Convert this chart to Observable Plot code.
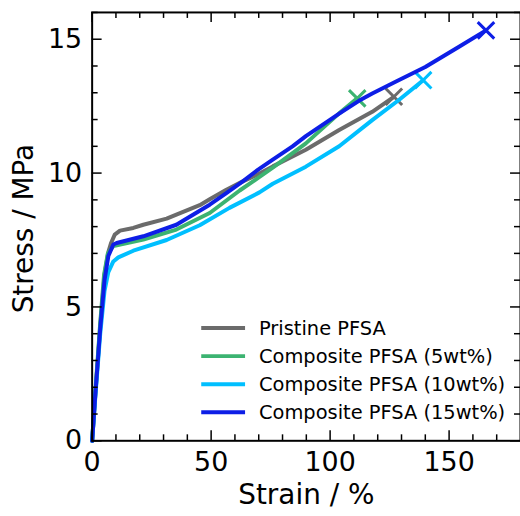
<!DOCTYPE html>
<html><head><meta charset="utf-8">
<script src="https://cdn.jsdelivr.net/npm/d3@7"></script>
<script src="https://cdn.jsdelivr.net/npm/@observablehq/plot@0.6"></script>
<style>html,body{margin:0;padding:0;overflow:hidden;background:#fff}svg{display:block}</style>
</head><body><div id="chart"></div>
<script>
// Series names and colours
const seriesNames = ["Pristine PFSA", "Composite PFSA (5wt%)", "Composite PFSA (10wt%)", "Composite PFSA (15wt%)"];
const seriesColors = ["#6b6b6b", "#3cb371", "#00bfff", "#0d1ee6"];

// Pristine PFSA
const pristineStrain = [0, 1.4, 3.4, 5.2, 6.8, 8.0, 9.5, 11.7, 17.3, 21.5, 31.3, 35.4, 45.2, 49.4, 56.4, 63.3, 68.9, 75.9, 89.8, 103.8, 117.7, 126.8];
const pristineStress = [0, 1.8, 4.3, 6.2, 7.05, 7.4, 7.7, 7.85, 7.95, 8.07, 8.3, 8.45, 8.8, 9.02, 9.38, 9.69, 9.92, 10.25, 10.87, 11.61, 12.29, 12.85];

// Composite PFSA (5wt%)
const comp5Strain = [0, 1.3, 3.4, 5.0, 6.6, 8.9, 21.5, 35.4, 49.4, 62.0, 69.6, 75.9, 89.8, 103.8, 111.4];
const comp5Stress = [0, 1.8, 4.4, 6.2, 7.0, 7.27, 7.52, 7.89, 8.51, 9.35, 9.81, 10.2, 11.11, 12.23, 12.79];

// Composite PFSA (10wt%)
const comp10Strain = [0, 1.3, 3.4, 5.2, 6.8, 8.9, 11.0, 17.3, 31.3, 45.2, 57.7, 70.3, 75.9, 89.8, 103.8, 117.7, 128.9, 139.1];
const comp10Stress = [0, 1.6, 4.0, 5.6, 6.3, 6.7, 6.85, 7.1, 7.5, 8.05, 8.7, 9.28, 9.6, 10.24, 11.0, 11.98, 12.73, 13.47];

// Composite PFSA (15wt%)
const comp15Strain = [0, 1.3, 3.4, 5.2, 6.8, 8.9, 10.3, 21.5, 35.4, 49.4, 56.4, 63.3, 69.6, 75.9, 84.2, 89.8, 103.8, 112.1, 117.7, 127.5, 140.0, 154.0, 165.5];
const comp15Stress = [0, 1.7, 4.2, 6.0, 6.9, 7.33, 7.39, 7.64, 8.07, 8.82, 9.25, 9.69, 10.12, 10.5, 11.0, 11.38, 12.22, 12.7, 12.97, 13.41, 13.96, 14.71, 15.33];

// Axes
const xMajorTicks = [0, 50, 100, 150];
const xMinorTicks = [10, 20, 30, 40, 60, 70, 80, 90, 110, 120, 130, 140, 160, 170];
const yMajorTicks = [0, 5, 10, 15];
const yMinorTicks = [1, 2, 3, 4, 6, 7, 8, 9, 11, 12, 13, 14, 16];
const xLabel = "Strain / %";
const yLabel = "Stress / MPa";
const xDomain = [0, 180];
const yDomain = [0, 16];

const strains = [pristineStrain, comp5Strain, comp10Strain, comp15Strain];
const stresses = [pristineStress, comp5Stress, comp10Stress, comp15Stress];
const series = seriesNames.map((name, i) => ({
  name, color: seriesColors[i],
  data: strains[i].map((s, j) => ({strain: s, stress: stresses[i][j]}))
}));

const W = 522, H = 516, mL = 92, mR = 0, mT = 12, mB = 74;
const pw = W - mL - mR, ph = H - mT - mB;
const font = "DejaVu Sans";

const marks = [];
for (const s of series) {
  marks.push(Plot.line(s.data, {x: "strain", y: "stress", stroke: s.color, strokeWidth: 4, strokeLinejoin: "round", strokeLinecap: "round"}));
  marks.push(Plot.dot([s.data[s.data.length - 1]], {x: "strain", y: "stress", symbol: "times", r: 7.6, stroke: s.color, strokeWidth: 3}));
}

const chart = Plot.plot({
  width: W, height: H,
  marginLeft: mL, marginRight: mR, marginTop: mT, marginBottom: mB,
  x: {domain: xDomain},
  y: {domain: yDomain},
  style: {fontFamily: font, fontSize: "27px", background: "white", color: "black", overflow: "visible"},
  marks: [
    ...marks,
    Plot.frame({stroke: "black", strokeWidth: 2}),
    // inward ticks
    Plot.tickY(yMajorTicks, {y: d => d, insetRight: pw - 10, stroke: "black", strokeWidth: 1.5}),
    Plot.tickY(yMinorTicks, {y: d => d, insetRight: pw - 6, stroke: "black", strokeWidth: 1.5}),
    Plot.tickY(yMajorTicks, {y: d => d, insetLeft: pw - 10, stroke: "black", strokeWidth: 1.5}),
    Plot.tickY(yMinorTicks, {y: d => d, insetLeft: pw - 6, stroke: "black", strokeWidth: 1.5}),
    Plot.tickX(xMajorTicks, {x: d => d, insetTop: ph - 10, stroke: "black", strokeWidth: 1.5}),
    Plot.tickX(xMinorTicks, {x: d => d, insetTop: ph - 6, stroke: "black", strokeWidth: 1.5}),
    Plot.tickX(xMajorTicks, {x: d => d, insetBottom: ph - 10, stroke: "black", strokeWidth: 1.5}),
    Plot.tickX(xMinorTicks, {x: d => d, insetBottom: ph - 6, stroke: "black", strokeWidth: 1.5}),
    Plot.axisX({ticks: xMajorTicks, tickSize: 0, tickPadding: 11, fontSize: 27, label: null}),
    Plot.axisY({ticks: yMajorTicks, tickSize: 0, tickPadding: 10, fontSize: 27, label: null}),
    Plot.text([xLabel], {frameAnchor: "bottom", dy: 63, lineAnchor: "bottom", textAnchor: "middle", fontSize: 28, fill: "black"}),
    Plot.text([yLabel], {frameAnchor: "left", dx: -59, dy: 2, rotate: -90, lineAnchor: "bottom", textAnchor: "middle", fontSize: 28, fill: "black"})
  ]
});

// Legend
const svg = d3.select(chart);
const lg = svg.append("g").attr("font-family", font).attr("font-size", 19.5).attr("text-anchor", "start");
const legendY0 = 329.3, legendStep = 28.2;
series.forEach((s, i) => {
  const y = legendY0 + i * legendStep;
  lg.append("line").attr("x1", 202).attr("x2", 246).attr("y1", y).attr("y2", y)
    .attr("stroke", s.color).attr("stroke-width", 4);
  lg.append("text").attr("x", 260).attr("y", y + 7).attr("fill", "black").attr("text-anchor", "start").text(s.name);
});

document.getElementById("chart").appendChild(chart);
</script>
</body></html>
